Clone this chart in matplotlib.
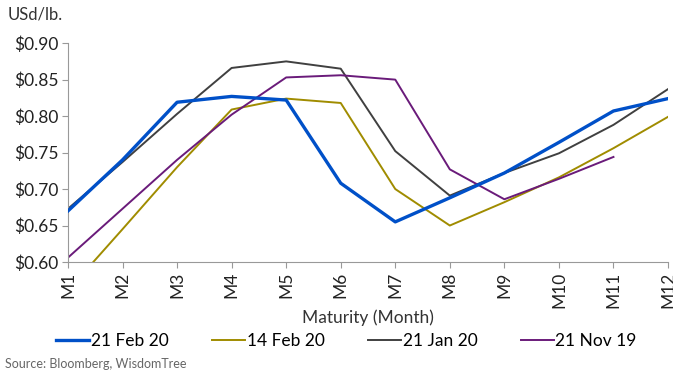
import matplotlib
matplotlib.use("Agg")
import matplotlib.pyplot as plt
from matplotlib.ticker import FuncFormatter

plt.rcParams['font.family'] = ['Lato', 'DejaVu Sans']

months = ["M1", "M2", "M3", "M4", "M5", "M6", "M7", "M8", "M9", "M10", "M11", "M12"]
feb21 = [0.670, 0.740, 0.819, 0.827, 0.822, 0.708, 0.655, 0.688, 0.722, 0.764, 0.807, 0.824]
feb14 = [0.561, 0.645, 0.730, 0.809, 0.824, 0.818, 0.700, 0.650, 0.682, 0.716, 0.756, 0.799]
jan21 = [0.673, 0.737, 0.803, 0.866, 0.875, 0.865, 0.752, 0.691, 0.722, 0.749, 0.788, 0.837]
nov21 = [0.606, 0.673, 0.740, 0.802, 0.853, 0.856, 0.850, 0.727, 0.686, 0.714, 0.744]

fig = plt.figure(figsize=(6.73, 3.72), dpi=100)
ax = fig.add_axes([0.101, 0.2957, 0.8916, 0.5883])

x = list(range(len(months)))
ax.plot(x, feb21, color="#0050C8", lw=2.4, label="21 Feb 20", zorder=5)
ax.plot(x, feb14, color="#A08C00", lw=1.4, label="14 Feb 20")
ax.plot(x, jan21, color="#404040", lw=1.4, label="21 Jan 20")
ax.plot(x[:len(nov21)], nov21, color="#6A1B7A", lw=1.4, label="21 Nov 19")

ax.set_xlim(0, 11)
ax.set_ylim(0.60, 0.90)
ax.set_yticks([0.60, 0.65, 0.70, 0.75, 0.80, 0.85, 0.90])
ax.yaxis.set_major_formatter(FuncFormatter(lambda v, p: f"${v:.2f}"))
ax.set_xticks(x)
ax.set_xticklabels(months, rotation=90)

for s in ["top", "right"]:
    ax.spines[s].set_visible(False)
for s in ["left", "bottom"]:
    ax.spines[s].set_color("#999999")
ax.tick_params(axis="both", colors="#999999", labelcolor="#222222", labelsize=12.5, length=4, pad=3)

ax.set_xlabel("Maturity (Month)", fontsize=12.5, color="#333333", labelpad=1)
fig.text(0.012, 0.96, "USd/lb.", fontsize=12, color="#333333", va="center")

fig.legend(loc="center left", bbox_to_anchor=(0.06, 0.083), ncol=4, frameon=False,
           fontsize=12.5, handlelength=1.9, handletextpad=0.1, columnspacing=2.5)
fig.text(0.008, 0.022, "Source: Bloomberg, WisdomTree", fontsize=9, color="#666666", va="center")

fig.savefig("out.png", dpi=100)
